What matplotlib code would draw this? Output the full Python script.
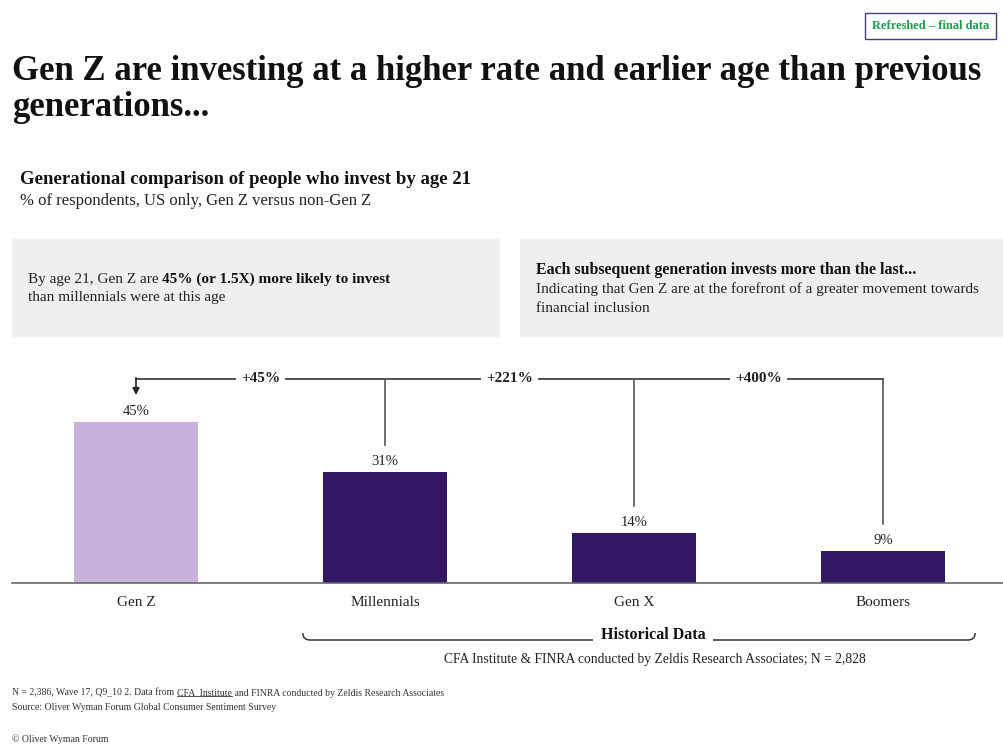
import matplotlib
matplotlib.use("Agg")
import matplotlib.pyplot as plt
from matplotlib.patches import Rectangle, PathPatch
from matplotlib.lines import Line2D
from matplotlib.path import Path
import matplotlib.transforms as mtransforms

plt.rcParams['font.family'] = ['Liberation Serif', 'DejaVu Serif']

# data
generations = ['Gen Z', 'Millennials', 'Gen X', 'Boomers']
invest_pct = [45, 31, 14, 9]
bar_colors = ['#c9b1dd', '#341762', '#341762', '#341762']
gap_labels = ['+45%', '+221%', '+400%']

W, H = 1004, 744
def fx(px):
    return px / W
def fy(py):
    return 1 - py / H

fig = plt.figure(figsize=(W / 100, H / 100), dpi=100)
fig.patch.set_facecolor('white')

# header
fig.text(fx(931), fy(26), 'Refreshed – final data', ha='center', va='center',
         color='#1e9c4c', fontsize=9, fontweight='bold',
         bbox=dict(boxstyle='square,pad=0.55', fc='white', ec='#4a3a7c', lw=1))
fig.text(fx(12), fy(72), 'Gen Z are investing at a higher rate and earlier age than previous',
         fontsize=25, fontweight='bold', va='center', color='#111111')
fig.text(fx(12), fy(108), 'generations...', fontsize=25, fontweight='bold', va='center', color='#111111')
fig.text(fx(20), fy(180), 'Generational comparison of people who invest by age 21',
         fontsize=13.5, fontweight='bold', va='center', color='#111111')
fig.text(fx(20), fy(201), '% of respondents, US only, Gen Z versus non-Gen Z',
         fontsize=12, va='center', color='#222222')

# grey boxes
for x0, x1 in [(12, 500), (520, 1004)]:
    fig.add_artist(Rectangle((fx(x0), fy(337)), (x1 - x0) / W, (337 - 239) / H,
                             transform=fig.transFigure, fc='#efefef', ec='none', zorder=0))

box_fs = 11
t1 = fig.text(fx(28), fy(279), 'By age 21, Gen Z are ', fontsize=box_fs, va='center', color='#222222')
fig.canvas.draw()
bb = t1.get_window_extent()
fig.text(bb.x1 / W, fy(279), '45% (or 1.5X) more likely to invest', fontsize=box_fs,
         fontweight='bold', va='center', color='#111111')
fig.text(fx(28), fy(298), 'than millennials were at this age', fontsize=box_fs, va='center', color='#222222')

fig.text(fx(536), fy(270), 'Each subsequent generation invests more than the last...',
         fontsize=11.4, fontweight='bold', va='center', color='#111111')
fig.text(fx(536), fy(289), 'Indicating that Gen Z are at the forefront of a greater movement towards',
         fontsize=box_fs, va='center', color='#222222')
fig.text(fx(536), fy(308), 'financial inclusion', fontsize=box_fs, va='center', color='#222222')

# chart
ax = fig.add_axes([fx(12), fy(583), (1004 - 12) / W, (583 - 370) / H])
x = range(len(generations))
ax.bar(x, invest_pct, width=0.5, color=bar_colors, zorder=2)
ax.set_xlim(-0.498, 3.486)
ax.set_ylim(0, 59.5)
for s in ['top', 'right', 'left']:
    ax.spines[s].set_visible(False)
ax.spines['bottom'].set_color('#666666')
ax.spines['bottom'].set_linewidth(1.2)
ax.set_yticks([])
ax.set_xticks(list(x))
ax.set_xticklabels(generations, fontsize=11, color='#222222')
ax.tick_params(axis='x', length=0, pad=9)

for i, v in enumerate(invest_pct):
    ax.annotate(f'{v}%', (i, v), xytext=(0, 3), textcoords='offset points',
                ha='center', va='bottom', fontsize=10.5, color='#222222')

# connector
top_y = 57
ax.plot([0, len(generations) - 1], [top_y, top_y], color='#333333', lw=1.2, clip_on=False, zorder=1)
for i in range(1, len(generations)):
    ax.plot([i, i], [top_y, invest_pct[i] + 7.5], color='#555555', lw=1.2, clip_on=False)
ax.annotate('', xy=(0, invest_pct[0] + 7.5), xytext=(0, top_y + 0.3),
            arrowprops=dict(arrowstyle='-|>', color='#222222', lw=1.2, mutation_scale=10,
                            shrinkA=0, shrinkB=0))
for i, lab in enumerate(gap_labels):
    ax.text(i + 0.5, top_y, lab, ha='center', va='center', fontsize=11, fontweight='bold',
            color='#222222', bbox=dict(boxstyle='square,pad=0.35', fc='white', ec='none'), zorder=3)

# historical data bracket
tr = mtransforms.blended_transform_factory(ax.transData, fig.transFigure)
xl, xr = 0.67, 3.37
yb, yt = fy(640), fy(633)
verts = [(xl, yt), (xl, yb), (xl + 0.03, yb), (xr - 0.03, yb), (xr, yb), (xr, yt)]
codes = [Path.MOVETO, Path.CURVE3, Path.CURVE3, Path.LINETO, Path.CURVE3, Path.CURVE3]
fig.add_artist(PathPatch(Path(verts, codes), transform=tr, fc='none', ec='#333333', lw=1.1))
fig.text(fx(653), fy(635), 'Historical Data', ha='center', va='center', fontsize=11.5,
         fontweight='bold', color='#111111',
         bbox=dict(boxstyle='square,pad=0.5', fc='white', ec='none'))
fig.text(fx(655), fy(659), 'CFA Institute & FINRA conducted by Zeldis Research Associates; N = 2,828',
         ha='center', va='center', fontsize=9.8, color='#222222')

# footnotes
foot_fs = 7
f1 = fig.text(fx(12), fy(693), 'N = 2,386, Wave 17, Q9_10 2. Data from ', fontsize=foot_fs,
              va='center', color='#333333')
fig.canvas.draw()
b1 = f1.get_window_extent()
f2 = fig.text(b1.x1 / W, fy(693), 'CFA  Institute', fontsize=foot_fs, va='center', color='#333333')
fig.canvas.draw()
b2 = f2.get_window_extent()
fig.add_artist(Line2D([b2.x0 / W, b2.x1 / W], [(b2.y0 + 2) / H] * 2, transform=fig.transFigure,
                      color='#333333', lw=0.6))
fig.text(b2.x1 / W, fy(693), ' and FINRA conducted by Zeldis Research Associates', fontsize=foot_fs,
         va='center', color='#333333')
fig.text(fx(12), fy(708), 'Source: Oliver Wyman Forum Global Consumer Sentiment Survey', fontsize=foot_fs,
         va='center', color='#333333')
fig.text(fx(12), fy(739), '© Oliver Wyman Forum', fontsize=foot_fs, va='center', color='#333333')

fig.savefig('out.png', dpi=100)
